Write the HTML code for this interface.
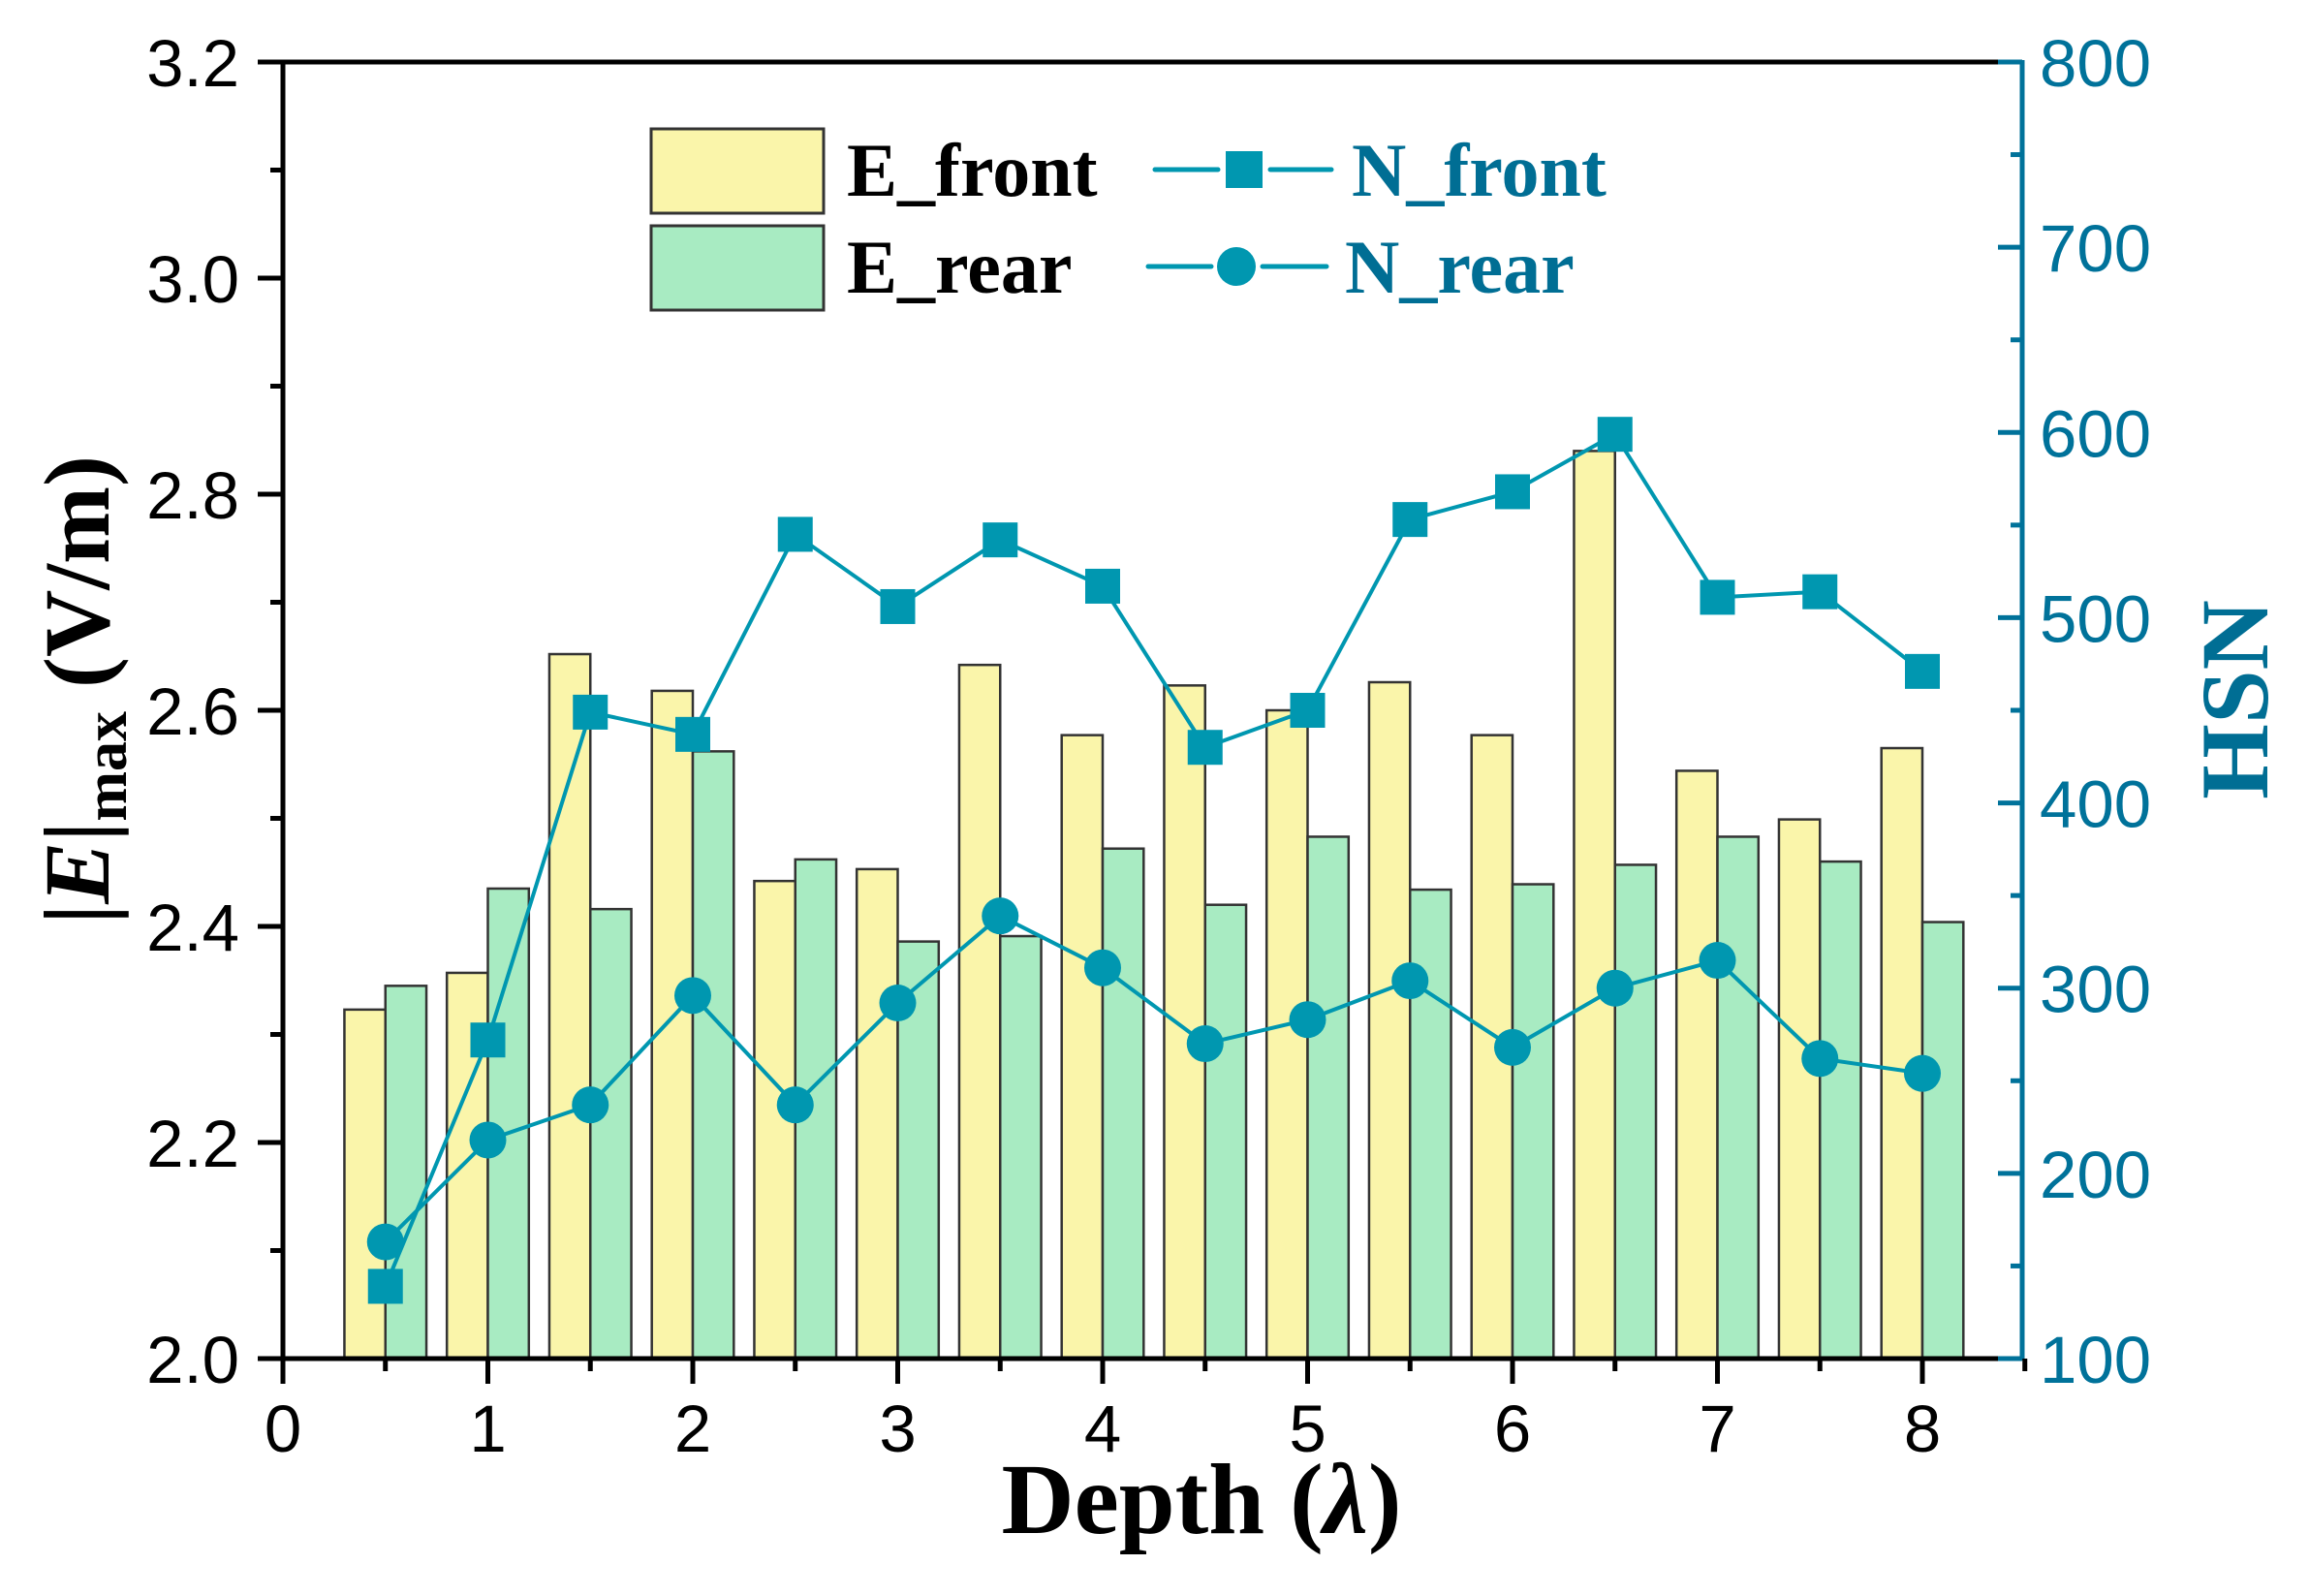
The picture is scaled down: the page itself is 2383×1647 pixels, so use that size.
<!DOCTYPE html>
<html><head><meta charset="utf-8"><style>
html,body{margin:0;padding:0;background:#fff;}
svg{display:block;}
.tk{font-family:"Liberation Sans",Arial,sans-serif;font-size:69px;}
.tt{font-family:"Liberation Serif","Times New Roman",serif;font-weight:bold;}
</style></head><body>
<svg id="chart" width="2383" height="1647" viewBox="0 0 2383 1647" xmlns="http://www.w3.org/2000/svg">
<g id="bars"></g>
<g id="lines"></g>
<g id="axes"></g>
<g id="legend">
  <rect x="672" y="133" width="178" height="87" fill="#FAF5AA" stroke="#333" stroke-width="3"/>
  <rect x="672" y="233" width="178" height="87" fill="#A8EBC2" stroke="#333" stroke-width="3"/>
  <text class="tt" x="874" y="202" font-size="78" fill="#000">E_front</text>
  <text class="tt" x="874" y="302" font-size="78" fill="#000">E_rear</text>
  <line x1="1192" y1="175" x2="1257" y2="175" stroke="#0097B0" stroke-width="5" stroke-linecap="round"/>
  <line x1="1311" y1="175" x2="1374" y2="175" stroke="#0097B0" stroke-width="5" stroke-linecap="round"/>
  <rect x="1265" y="156" width="38" height="38" fill="#0097B0"/>
  <line x1="1185" y1="275" x2="1250" y2="275" stroke="#0097B0" stroke-width="5" stroke-linecap="round"/>
  <line x1="1303" y1="275" x2="1369" y2="275" stroke="#0097B0" stroke-width="5" stroke-linecap="round"/>
  <circle cx="1276" cy="275" r="20" fill="#0097B0"/>
  <text class="tt" x="1395" y="202" font-size="78" fill="#006E94">N_front</text>
  <text class="tt" x="1388" y="302" font-size="78" fill="#006E94">N_rear</text>
</g>
<text class="tt" x="1240" y="1582" font-size="104" text-anchor="middle" fill="#000">Depth (<tspan font-style="italic">λ</tspan>)</text>
<text class="tt" font-size="96" text-anchor="middle" fill="#000" transform="translate(112,712) rotate(-90)">|<tspan font-style="italic">E</tspan>|<tspan font-size="62" dy="18">max</tspan><tspan dy="-18"> (V/m)</tspan></text>
<text class="tt" font-size="100" text-anchor="middle" fill="#006E94" transform="translate(2340,722) rotate(-90)">HSN</text>
</svg>
<script>
const depths=[0.5,1,1.5,2,2.5,3,3.5,4,4.5,5,5.5,6,6.5,7,7.5,8];
const eFront=[2.323,2.357,2.652,2.618,2.442,2.453,2.642,2.577,2.623,2.600,2.626,2.577,2.840,2.544,2.499,2.565];
const eRear=[2.345,2.435,2.416,2.562,2.462,2.386,2.391,2.472,2.420,2.483,2.434,2.439,2.457,2.483,2.460,2.404];
const nFront=[139,272,449,437,545,506,542,517,430,450,553,568,599,511,514,471];
const nRear=[163,218,237,296,237,292,339,311,270,283,304,268,300,315,262,254];
const xTicks=[0,1,2,3,4,5,6,7,8];
const yTicks=[2.0,2.2,2.4,2.6,2.8,3.0,3.2];
const y2Ticks=[100,200,300,400,500,600,700,800];

const NS='http://www.w3.org/2000/svg';
const L=292,R=2087,T=64,B=1402;
const X=v=>L+v*211.5;
const Y=v=>B-(v-2.0)/1.2*(B-T);
const Y2=v=>B-(v-100)/700*(B-T);
const bw=0.2;
function mk(tag,attrs,parent){const e=document.createElementNS(NS,tag);for(const k in attrs)e.setAttribute(k,attrs[k]);parent.appendChild(e);return e;}
const gb=document.getElementById('bars'),gl=document.getElementById('lines'),ga=document.getElementById('axes');

depths.forEach((d,i)=>{
  let r=mk('rect',{x:X(d-bw),y:Y(eFront[i]),width:X(d)-X(d-bw),height:B-Y(eFront[i]),fill:'#FAF5AA',stroke:'#333','stroke-width':2.5},gb);
  
  
  let s=mk('rect',{x:X(d),y:Y(eRear[i]),width:X(d+bw)-X(d),height:B-Y(eRear[i]),fill:'#A8EBC2',stroke:'#333','stroke-width':2.5},gb);
  
  
});

function series(vals,name){
  const p=mk('polyline',{points:depths.map((d,i)=>X(d)+','+Y2(vals[i])).join(' '),fill:'none',stroke:'#0097B0','stroke-width':4},gl);
  
  
}
series(nFront,'n-front');series(nRear,'n-rear');
depths.forEach((d,i)=>{
  const m=mk('rect',{x:X(d)-18,y:Y2(nFront[i])-18,width:36,height:36,fill:'#0097B0'},gl);
  
  
  const c=mk('circle',{cx:X(d),cy:Y2(nRear[i]),r:19,fill:'#0097B0'},gl);
  
  
});

let a=mk('line',{x1:L,y1:T,x2:R,y2:T,stroke:'#000','stroke-width':5},ga);


a=mk('line',{x1:L,y1:T-2,x2:L,y2:B+2,stroke:'#000','stroke-width':5},ga);


a=mk('line',{x1:L-2,y1:B,x2:R,y2:B,stroke:'#000','stroke-width':5},ga);


a=mk('line',{x1:R,y1:T-2,x2:R,y2:B+2,stroke:'#00729A','stroke-width':5},ga);



yTicks.forEach((v,i)=>{
  const t=mk('line',{x1:L-26,y1:Y(v),x2:L,y2:Y(v),stroke:'#000','stroke-width':5},ga);
  
  
  const tx=mk('text',{x:L-45,y:Y(v)+25,'text-anchor':'end',class:'tk',fill:'#000'},ga);
  tx.textContent=v.toFixed(1);
  
  
  if(i<yTicks.length-1){
    const m=mk('line',{x1:L-13,y1:Y(v+0.1),x2:L,y2:Y(v+0.1),stroke:'#000','stroke-width':5},ga);
    
    
  }
});
xTicks.forEach(v=>{
  const t=mk('line',{x1:X(v),y1:B,x2:X(v),y2:B+26,stroke:'#000','stroke-width':5},ga);
  
  
  const tx=mk('text',{x:X(v),y:B+96,'text-anchor':'middle',class:'tk',fill:'#000'},ga);
  tx.textContent=String(v);
  
  
  const m=mk('line',{x1:X(v+0.5),y1:B,x2:X(v+0.5),y2:B+13,stroke:'#000','stroke-width':5},ga);
  
  
});
y2Ticks.forEach((v,i)=>{
  const t=mk('line',{x1:R-25,y1:Y2(v),x2:R,y2:Y2(v),stroke:'#00729A','stroke-width':5},ga);
  
  
  const tx=mk('text',{x:R+18,y:Y2(v)+25,class:'tk',fill:'#00729A'},ga);
  tx.textContent=String(v);
  
  
  if(i<y2Ticks.length-1){
    const m=mk('line',{x1:R-12,y1:Y2(v+50),x2:R,y2:Y2(v+50),stroke:'#00729A','stroke-width':5},ga);
    
    
  }
});
</script>
</body></html>
